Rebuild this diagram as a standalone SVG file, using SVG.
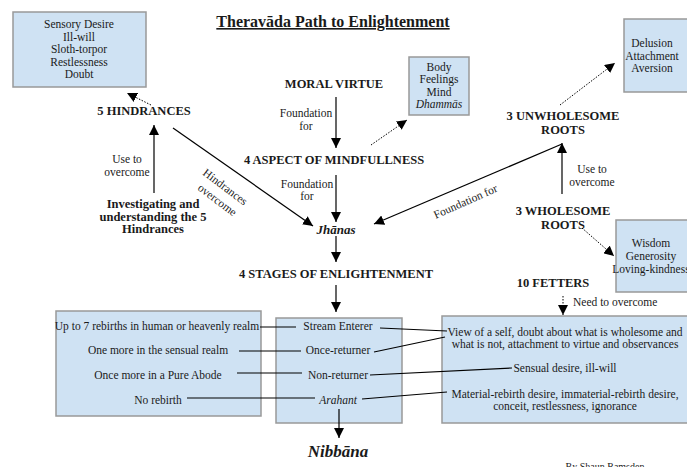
<svg xmlns="http://www.w3.org/2000/svg" width="687" height="467" viewBox="0 0 687 467">
<style>
.box{fill:#cfe2f3;stroke:#999;stroke-width:1.5}
text{font-family:"Liberation Serif","DejaVu Serif",serif;fill:#1a1a1a;text-anchor:middle}
.t{font-size:11.5px}
.h{font-size:12.5px;font-weight:bold}
.ln{stroke:#000;stroke-width:1.2;fill:none}
.dot{stroke:#000;stroke-width:1;stroke-dasharray:1.5,1.5;fill:none}
</style>
<defs>
<marker id="ah" viewBox="0 0 10 10" refX="10" refY="5" markerWidth="10" markerHeight="10" markerUnits="userSpaceOnUse" orient="auto">
<path d="M0,0 L10,5 L0,10 Z" fill="#000"/>
</marker>
</defs>
<rect width="687" height="467" fill="#fff"/>
<text x="333" y="27" font-size="16" font-weight="bold" text-decoration="underline">Theravāda Path to Enlightenment</text>

<g id="hindrances-box">
<rect class="box" x="13" y="12" width="133" height="75"/>
<text class="t" x="79" y="28">Sensory Desire</text>
<text class="t" x="79" y="41">Ill-will</text>
<text class="t" x="79" y="53">Sloth-torpor</text>
<text class="t" x="79" y="66">Restlessness</text>
<text class="t" x="79" y="78">Doubt</text>
</g>
<g id="body-box">
<rect class="box" x="409" y="57" width="60" height="58"/>
<text class="t" x="439" y="71">Body</text>
<text class="t" x="439" y="83">Feelings</text>
<text class="t" x="439" y="96">Mind</text>
<text class="t" x="439" y="108" font-style="italic">Dhammās</text>
</g>
<g id="delusion-box">
<rect class="box" x="624" y="19" width="70" height="73"/>
<text class="t" x="652" y="47">Delusion</text>
<text class="t" x="652" y="60">Attachment</text>
<text class="t" x="652" y="72">Aversion</text>
</g>
<g id="wisdom-box">
<rect class="box" x="616" y="220" width="78" height="72"/>
<text class="t" x="651" y="247">Wisdom</text>
<text class="t" x="651" y="260">Generosity</text>
<text class="t" x="651" y="273">Loving-kindness</text>
</g>

<g id="moral-virtue"><text class="h" x="334" y="88">MORAL VIRTUE</text></g>
<g id="mindfulness"><text class="h" x="334" y="164">4 ASPECT OF MINDFULLNESS</text></g>
<g id="jhanas"><text x="336" y="234" font-size="13" font-weight="bold" font-style="italic">Jhānas</text></g>
<g id="hindrances"><text class="h" x="144" y="115">5 HINDRANCES</text></g>
<g id="investigating">
<text class="h" x="153" y="208" font-size="12">Investigating and</text>
<text class="h" x="153" y="221" font-size="12">understanding the 5</text>
<text class="h" x="153" y="233" font-size="12">Hindrances</text>
</g>
<g id="unwholesome">
<text class="h" x="563" y="120">3 UNWHOLESOME</text>
<text class="h" x="563" y="134">ROOTS</text>
</g>
<g id="wholesome">
<text class="h" x="563" y="215">3 WHOLESOME</text>
<text class="h" x="563" y="229">ROOTS</text>
</g>
<g id="stages"><text class="h" x="336" y="278">4 STAGES OF ENLIGHTENMENT</text></g>
<g id="fetters"><text class="h" x="553" y="287">10 FETTERS</text></g>

<g id="results-box">
<rect class="box" x="56" y="311" width="205" height="105"/>
<text class="t" x="157" y="330">Up to 7 rebirths in human or heavenly realm</text>
<text class="t" x="158" y="354">One more in the sensual realm</text>
<text class="t" x="158" y="379">Once more in a Pure Abode</text>
<text class="t" x="158" y="404">No rebirth</text>
</g>
<g id="stages-box">
<rect class="box" x="276" y="318" width="126" height="105"/>
<text class="t" x="338" y="330">Stream Enterer</text>
<text class="t" x="338" y="354">Once-returner</text>
<text class="t" x="338" y="379">Non-returner</text>
<text class="t" x="338" y="404" font-style="italic">Arahant</text>
</g>
<g id="fetters-box">
<rect class="box" x="442" y="316" width="252" height="107"/>
<text class="t" x="565" y="336">View of a self, doubt about what is wholesome and</text>
<text class="t" x="565" y="348">what is not, attachment to virtue and observances</text>
<text class="t" x="565" y="372">Sensual desire, ill-will</text>
<text class="t" x="565" y="398">Material-rebirth desire, immaterial-rebirth desire,</text>
<text class="t" x="565" y="410">conceit, restlessness, ignorance</text>
</g>
<g id="nibbana"><text x="338" y="457" font-size="17" font-weight="bold" font-style="italic">Nibbāna</text></g>
<g id="author"><text x="605" y="470" font-size="10">By Shaun Ramsden</text></g>

<g id="connectors">
<line class="ln" x1="336" y1="97" x2="336" y2="148" marker-end="url(#ah)"/>
<text class="t" x="306" y="117">Foundation</text>
<text class="t" x="306" y="130">for</text>
<line class="dot" x1="371" y1="145" x2="407" y2="120" marker-end="url(#ah)"/>
<line class="ln" x1="336" y1="175" x2="336" y2="222" marker-end="url(#ah)"/>
<text class="t" x="307" y="188">Foundation</text>
<text class="t" x="307" y="200">for</text>
<line class="ln" x1="173" y1="128" x2="313" y2="226" marker-end="url(#ah)"/>
<text class="t" transform="translate(223,190) rotate(37)" x="0" y="0">Hindrances</text>
<text class="t" transform="translate(215,203) rotate(37)" x="0" y="0">overcome</text>
<line class="ln" x1="562" y1="144" x2="374" y2="224" marker-end="url(#ah)"/>
<text class="t" transform="translate(467,205) rotate(-24)" x="0" y="0">Foundation for</text>
<line class="dot" x1="151" y1="105" x2="127" y2="93" marker-end="url(#ah)"/>
<line class="ln" x1="154" y1="193" x2="154" y2="125" marker-end="url(#ah)"/>
<text class="t" x="127" y="163">Use to</text>
<text class="t" x="127" y="176">overcome</text>
<line class="dot" x1="560" y1="105" x2="615" y2="63" marker-end="url(#ah)"/>
<line class="ln" x1="562" y1="194" x2="562" y2="143" marker-end="url(#ah)" stroke="#333"/>
<text class="t" x="592" y="173">Use to</text>
<text class="t" x="592" y="186">overcome</text>
<line class="dot" x1="582" y1="228" x2="614" y2="256" marker-end="url(#ah)"/>
<line class="ln" x1="336" y1="236" x2="336" y2="262" marker-end="url(#ah)"/>
<line class="ln" x1="336" y1="285" x2="336" y2="312" marker-end="url(#ah)"/>
<line class="dot" x1="563" y1="296" x2="563" y2="315" marker-end="url(#ah)"/>
<text class="t" x="573" y="306" style="text-anchor:start">Need to overcome</text>
<line class="ln" x1="339" y1="409" x2="339" y2="438" marker-end="url(#ah)"/>
<line class="ln" x1="260" y1="327" x2="296" y2="327"/>
<line class="ln" x1="239" y1="351" x2="301" y2="351"/>
<line class="ln" x1="237" y1="373" x2="302" y2="373"/>
<line class="ln" x1="187" y1="398" x2="315" y2="398"/>
<line class="ln" x1="380" y1="328" x2="447" y2="331"/>
<line class="ln" x1="374" y1="352" x2="445" y2="337"/>
<line class="ln" x1="370" y1="375" x2="512" y2="368"/>
<line class="ln" x1="362" y1="399" x2="447" y2="392"/>
</g>
</svg>
